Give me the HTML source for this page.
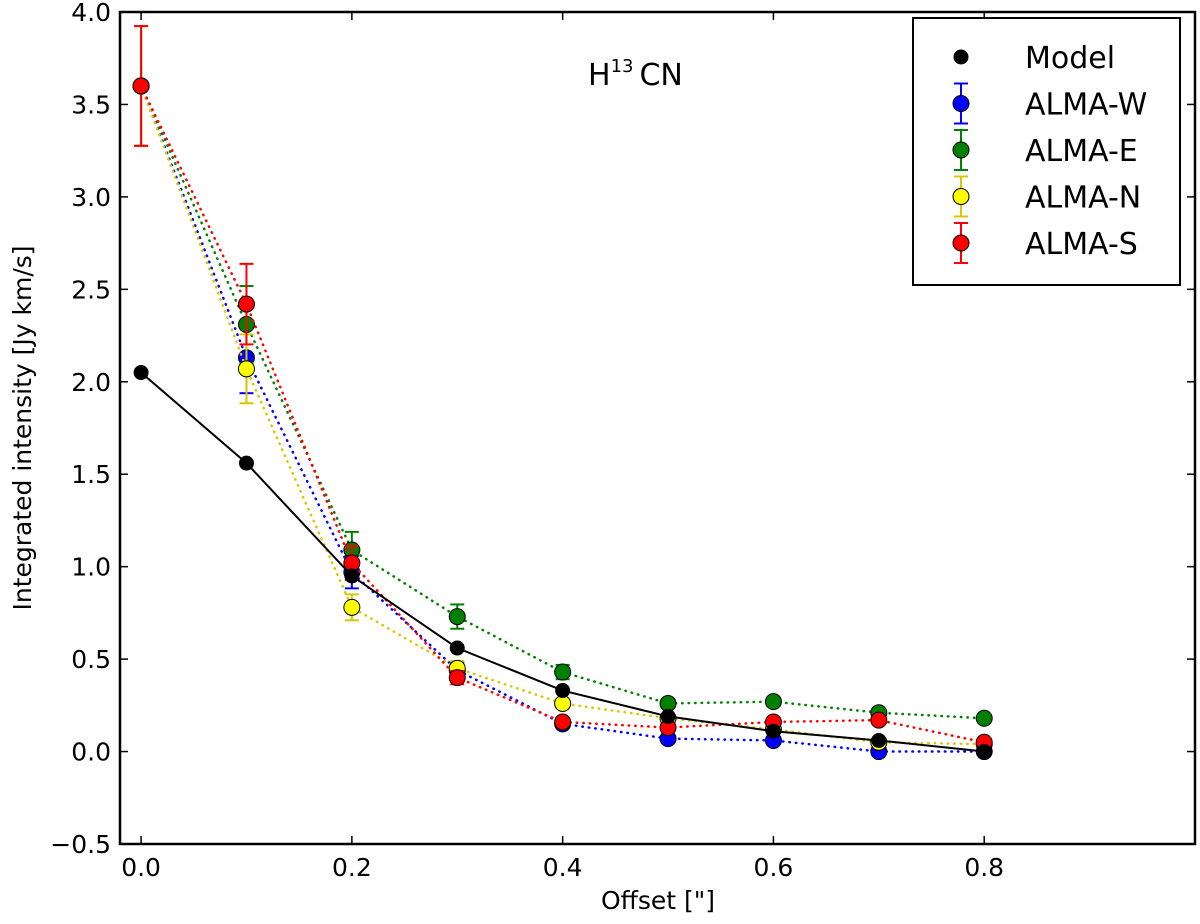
<!DOCTYPE html>
<html><head><meta charset="utf-8"><style>
body{margin:0;background:#fff}
text{font-family:"DejaVu Sans","Liberation Sans",sans-serif}
</style></head><body>
<svg id="c" width="1200" height="919" xmlns="http://www.w3.org/2000/svg"></svg>
<script>
const offsets=[0,0.1,0.2,0.3,0.4,0.5,0.6,0.7,0.8];
const model=[2.05,1.56,0.95,0.56,0.33,0.19,0.11,0.06,0.0];
const almaW=[3.6,2.13,0.97,0.44,0.15,0.07,0.06,0.0,0.0];
const almaE=[3.6,2.31,1.09,0.73,0.43,0.26,0.27,0.21,0.18];
const almaN=[3.6,2.07,0.78,0.45,0.26,0.18,0.12,0.05,0.04];
const almaS=[3.6,2.42,1.02,0.40,0.16,0.13,0.16,0.17,0.05];
const xTicks=[0,0.2,0.4,0.6,0.8];
const xTickLabels=["0.0","0.2","0.4","0.6","0.8"];
const yTicks=[-0.5,0,0.5,1,1.5,2,2.5,3,3.5,4];
const yTickLabels=["\u22120.5","0.0","0.5","1.0","1.5","2.0","2.5","3.0","3.5","4.0"];
const L=120,R=1195,T=12,B=844;
const xs=v=>L+(v+0.02)/1.02*(R-L);
const ys=v=>B-(v+0.5)/4.5*(B-T);
const svg=document.getElementById('c');
const NS='http://www.w3.org/2000/svg';
function mk(tag,attrs,parent){const e=document.createElementNS(NS,tag);for(const k in attrs)e.setAttribute(k,attrs[k]);(parent||svg).appendChild(e);return e;}
xTicks.forEach((t,i)=>{
  const x=xs(t);
  const a=mk('line',{x1:x,x2:x,y1:B,y2:B-8,stroke:'#000','stroke-width':1.5});
  
  
  mk('line',{x1:x,x2:x,y1:T,y2:T+8,stroke:'#000','stroke-width':1.5});
  const tx=mk('text',{x:x,y:B+32,'text-anchor':'middle','font-size':25});
  tx.textContent=xTickLabels[i];
  
  
});
yTicks.forEach((t,i)=>{
  const y=ys(t);
  const a=mk('line',{x1:L,x2:L+8,y1:y,y2:y,stroke:'#000','stroke-width':1.5});
  
  
  mk('line',{x1:R,x2:R-8,y1:y,y2:y,stroke:'#000','stroke-width':1.5});
  const tx=mk('text',{x:L-9,y:y+9,'text-anchor':'end','font-size':25});
  tx.textContent=yTickLabels[i];
  
  
});
const series=[
 {name:'alma-w',vals:almaW,color:'#0000ff'},
 {name:'alma-e',vals:almaE,color:'#008000'},
 {name:'alma-n',vals:almaN,color:'#ffff00',line:'#d8c800'},
 {name:'alma-s',vals:almaS,color:'#ff0000'}
];
function drawSeries(s){
  const g=mk('g',{});
  
  
  const pts=s.vals.map((v,i)=>xs(offsets[i])+','+ys(v)).join(' ');
  mk('polyline',{points:pts,fill:'none',stroke:s.line||s.color,'stroke-width':2.5,'stroke-dasharray':'0.5,6','stroke-linecap':'round'},g);
  s.vals.forEach((v,i)=>{
    const x=xs(offsets[i]);const e=v*0.09;
    const ec=s.line||s.color;
    mk('line',{x1:x,x2:x,y1:ys(v-e),y2:ys(v+e),stroke:ec,'stroke-width':2},g);
    mk('line',{x1:x-7,x2:x+7,y1:ys(v-e),y2:ys(v-e),stroke:ec,'stroke-width':2},g);
    mk('line',{x1:x-7,x2:x+7,y1:ys(v+e),y2:ys(v+e),stroke:ec,'stroke-width':2},g);
  });
  s.vals.forEach((v,i)=>{
    const c=mk('circle',{cx:xs(offsets[i]),cy:ys(v),r:8,fill:s.color,stroke:'#000','stroke-width':1},g);
    
    
  });
}
series.forEach(drawSeries);
const mg=mk('g',{});


mk('polyline',{points:model.map((v,i)=>xs(offsets[i])+','+ys(v)).join(' '),fill:'none',stroke:'#000','stroke-width':2},mg);
model.forEach((v,i)=>{
  const c=mk('circle',{cx:xs(offsets[i]),cy:ys(v),r:7.5,fill:'#000'},mg);
  
  
});
const f=mk('rect',{x:L,y:T,width:R-L,height:B-T,fill:'none',stroke:'#000','stroke-width':2.5});


const ti=mk('text',{x:588,y:85,'font-size':30});
ti.innerHTML='H<tspan font-size="18" dy="-13">13</tspan><tspan dy="13" dx="6">CN</tspan>';


const xl=mk('text',{x:658,y:909,'text-anchor':'middle','font-size':25});
xl.textContent='Offset ["]';


const yl=mk('text',{x:0,y:0,'text-anchor':'middle','font-size':25,transform:'translate(31,428) rotate(-90)'});
yl.textContent='Integrated intensity [Jy km/s]';


const lg=mk('g',{});


mk('rect',{x:913,y:18,width:267,height:267,fill:'#fff',stroke:'#000','stroke-width':2},lg);
const legNames=['Model','ALMA-W','ALMA-E','ALMA-N','ALMA-S'];
const legColors=['#000','#0000ff','#008000','#ffff00','#ff0000'];
const legErr=[null,'#0000ff','#008000','#d8c800','#ff0000'];
legNames.forEach((n,i)=>{
  const y=57+i*46.5;
  const e=mk('g',{},lg);
  
  
  if(legErr[i]){
    mk('line',{x1:961,x2:961,y1:y-20,y2:y+20,stroke:legErr[i],'stroke-width':2},e);
    mk('line',{x1:954,x2:968,y1:y-20,y2:y-20,stroke:legErr[i],'stroke-width':2},e);
    mk('line',{x1:954,x2:968,y1:y+20,y2:y+20,stroke:legErr[i],'stroke-width':2},e);
    mk('circle',{cx:961,cy:y,r:8,fill:legColors[i],stroke:'#000','stroke-width':1},e);
  } else mk('circle',{cx:961,cy:y,r:7.5,fill:'#000'},e);
  const t=mk('text',{x:1025,y:y+11,'font-size':30},e);
  t.textContent=n;
});
</script>
</body></html>
